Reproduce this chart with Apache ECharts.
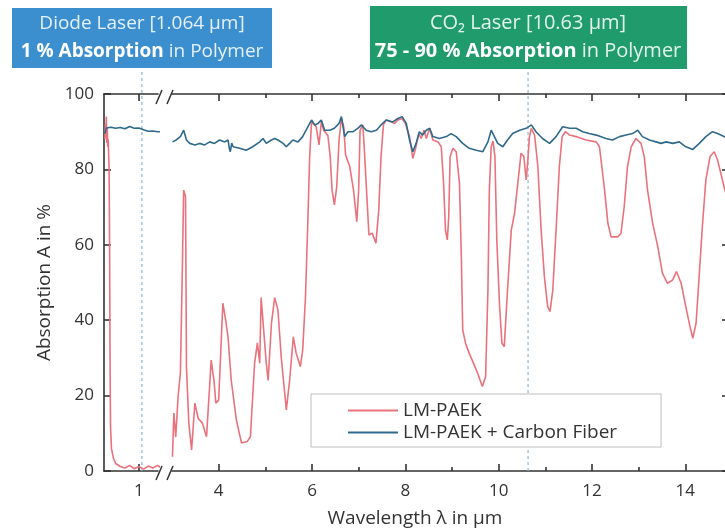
<!DOCTYPE html>
<html>
<head>
<meta charset="utf-8">
<script src="https://cdn.jsdelivr.net/npm/echarts@6/dist/echarts.min.js"></script>
<style>
  html, body { margin: 0; padding: 0; background: #fff; }
  #chart { width: 725px; height: 531px; }
</style>
</head>
<body>
<div id="chart"></div>
<script>
// LM-PAEK, near infrared part (left of the axis break)
var paekNirX = [0.27, 0.28, 0.29, 0.30, 0.31, 0.32, 0.33, 0.34, 0.35, 0.36, 0.37, 0.38, 0.39, 0.41, 0.45, 0.5, 0.6, 0.7, 0.8, 0.9, 1.0, 1.1, 1.2, 1.3, 1.4, 1.46];
var paekNirY = [88, 92, 90, 94, 87, 91, 86, 88, 84, 80, 60, 30, 12, 6, 3.5, 2, 1.2, 0.8, 1.5, 0.6, 1.2, 0.5, 1.3, 0.8, 1.5, 1];

// LM-PAEK + carbon fiber, near infrared part
var cfNirX = [0.27, 0.3, 0.4, 0.5, 0.6, 0.7, 0.8, 0.9, 1.0, 1.1, 1.2, 1.3, 1.4, 1.47];
var cfNirY = [89.5, 91, 91.2, 90.9, 91.1, 90.8, 91.4, 90.9, 91, 90.5, 90.1, 90.2, 90, 90];

// LM-PAEK, mid infrared part
var paekMirX = [3.01, 3.04, 3.08, 3.13, 3.18, 3.22, 3.25, 3.29, 3.31, 3.36, 3.42, 3.49, 3.56, 3.65, 3.74, 3.84, 3.9, 3.94, 4.0,
    4.09, 4.15, 4.2, 4.27, 4.38, 4.49, 4.61, 4.68, 4.77, 4.83, 4.88, 4.91, 4.95, 5.02, 5.06, 5.13, 5.2, 5.27, 5.34, 5.45,
    5.52, 5.6, 5.66, 5.75, 5.8, 5.86, 5.91, 5.95, 5.99, 6.02, 6.09, 6.15, 6.2, 6.25, 6.34, 6.39, 6.43, 6.48, 6.53, 6.58,
    6.63, 6.68, 6.72, 6.81, 6.89, 6.96, 7.0, 7.03, 7.09, 7.13, 7.18, 7.22, 7.29, 7.37, 7.43, 7.48, 7.53, 7.59, 7.7, 7.77,
    7.84, 7.93, 8.0, 8.09, 8.16, 8.22, 8.29, 8.34, 8.4, 8.45, 8.52, 8.59, 8.7, 8.77, 8.82, 8.86, 8.9, 8.93, 8.96, 9.02,
    9.09, 9.16, 9.2, 9.23, 9.29, 9.37, 9.46, 9.55, 9.65, 9.72, 9.77, 9.8, 9.84, 9.88, 9.92, 9.96, 10.02, 10.07, 10.12,
    10.19, 10.27, 10.34, 10.41, 10.48, 10.54, 10.59, 10.62, 10.66, 10.7, 10.77, 10.84, 10.91, 10.98, 11.05, 11.1, 11.16,
    11.23, 11.3, 11.36, 11.43, 11.52, 11.66, 11.87, 12.09, 12.16, 12.27, 12.34, 12.41, 12.55, 12.62, 12.69, 12.76, 12.84,
    12.94, 13.05, 13.12, 13.19, 13.3, 13.41, 13.51, 13.62, 13.73, 13.81, 13.91, 14.01, 14.1, 14.16, 14.23, 14.3, 14.37,
    14.44, 14.53, 14.62, 14.69, 14.76, 14.83, 14.95];
var paekMirY = [3.8, 15.4, 9, 19.7, 26, 52.5, 74.5, 72.8, 27.7, 12.7, 5.6, 18, 14, 12.7, 9.1, 29.4, 24, 18, 18.8,
    44.5, 40, 35.6, 24, 13.5, 7.4, 7.8, 9.1, 28.6, 34, 28.6, 46, 46, 28.6, 24, 39, 46, 42.7, 30.3, 16.2,
    24, 35.6, 31.3, 27.7, 32, 46, 65.8, 83.4, 92.6, 93, 91.3, 86.5, 92.6, 90.4, 89, 83.4, 74.5, 70.6, 75.4, 87.8,
    93.5, 91.3, 83.8, 80.7, 74.5, 66.1, 74.5, 90.4, 91.8, 83.4, 71.9, 62.6, 63.1, 60.4, 69.2, 83.4, 91.8, 93.1, 92.6, 92.2,
    93.1, 93.5, 92.2, 88.7, 82.9, 85.6, 89.5, 88.2, 90.4, 88.2, 90.9, 87.8, 87.3, 86, 76.3, 63.9, 61.3, 67.5, 83.4, 85.6,
    84.7, 76.3, 56.8, 37.4, 33.9, 31.2, 28.6, 25.9, 22.4, 25, 48, 74.5, 86, 87.5, 83.4, 61.3, 43.6, 33.9, 33,
    48, 63.9, 68.3, 76.3, 84.3, 83.4, 77.2, 81.6, 88.7, 90.9, 89.1, 80.7, 63.9, 51.5, 43.6, 42.3, 48,
    63.9, 80.7, 88.7, 90, 89.1, 88.7, 87.8, 87.3, 86, 74.5, 65.7, 62.1, 62.1, 63, 70.1, 80.7, 86,
    88.2, 86.9, 83.4, 74.5, 65.7, 59.5, 52.4, 49.8, 50.7, 52.9, 49.8, 43.6, 38.3, 35.2, 39.2, 52.4, 65.7,
    77.2, 83.4, 84.7, 82.5, 79, 75.4, 70];

// LM-PAEK + carbon fiber, mid infrared part
var cfMirX = [3.01, 3.09, 3.18, 3.25, 3.31, 3.38, 3.49, 3.59, 3.7, 3.81, 3.91, 4.02, 4.13, 4.2, 4.23, 4.25, 4.28, 4.31,
    4.45, 4.59, 4.73, 4.88, 4.95, 5.02, 5.13, 5.2, 5.27, 5.38, 5.45, 5.52, 5.59, 5.7, 5.8, 5.91, 5.99, 6.06, 6.13, 6.2,
    6.27, 6.38, 6.48, 6.58, 6.63, 6.7, 6.77, 6.88, 6.98, 7.06, 7.16, 7.27, 7.38, 7.48, 7.59, 7.63, 7.73, 7.84, 7.93, 8.02,
    8.09, 8.16, 8.23, 8.3, 8.37, 8.45, 8.52, 8.59, 8.73, 8.88, 8.98, 9.09, 9.23, 9.37, 9.52, 9.66, 9.77, 9.84, 9.87, 9.98,
    10.09, 10.19, 10.3, 10.45, 10.59, 10.7, 10.8, 10.94, 11.09, 11.23, 11.37, 11.52, 11.66, 11.8, 11.94, 12.09, 12.3,
    12.44, 12.59, 12.73, 12.87, 12.98, 13.08, 13.23, 13.37, 13.48, 13.59, 13.73, 13.87, 14.01, 14.16, 14.3, 14.44, 14.58,
    14.69, 14.83, 14.95];
var cfMirY = [87.3, 87.8, 88.7, 90.4, 87.8, 86.9, 86.5, 86.9, 86.5, 87.3, 86.9, 87.8, 87.3, 87.8, 85.5, 84.7, 87, 86,
    85.6, 85.1, 86, 87.3, 88.2, 86.9, 87.8, 88.2, 87.8, 86.9, 86, 86.9, 87.8, 87.3, 88.7, 91.3, 93.1, 91.8, 92.2, 93.1,
    90.4, 90.4, 90.9, 92.2, 94, 88.7, 90, 90, 90.9, 91.8, 90.4, 90, 90.4, 91.8, 93.1, 93.5, 92.6, 93.5, 94, 92.2,
    87.8, 84.7, 86.9, 90, 89.1, 90.4, 90.9, 88.7, 88.2, 88.7, 89.5, 88.7, 86.9, 85.6, 85.1, 84.7, 87.3, 90.4, 90, 86.9,
    86, 87.8, 89.5, 90.4, 90.9, 91.8, 90, 88.2, 86.9, 88.7, 91.3, 90.9, 90.9, 90, 89.5, 89.1, 88.2,
    87.8, 88.7, 89.1, 89.5, 90.4, 88.7, 87.8, 87.3, 86.9, 87.3, 86.9, 87.3, 86, 85.3, 86.9, 88.7, 90,
    89.5, 88.7, 88];

// laser wavelengths (µm)
var diodeLaser = 1.064;
var co2Laser = 10.63;

var majorTicks = [4, 6, 8, 10, 12, 14];
var minorTicks = [5, 7, 9, 11, 13];

var RED = '#e9727c';
var BLUE = '#2f6a8c';
var AXIS = '#333';
var FONT = '"Open Sans", "DejaVu Sans", sans-serif';

function pairs(xs, ys) {
    return xs.map(function (x, i) { return [x, ys[i]]; });
}

function xAxisFor(grid, pos, min, max, ticks, len, labels, line) {
    return {
        gridIndex: grid,
        type: 'value',
        position: pos,
        min: min,
        max: max,
        splitLine: { show: false },
        axisLine: { show: line, onZero: false, lineStyle: { color: AXIS, width: 1.6 } },
        axisTick: { show: true, inside: true, length: len, customValues: ticks, lineStyle: { color: AXIS, width: 1.6 } },
        axisLabel: labels ? { customValues: labels, fontSize: 17, color: '#333', margin: 12, fontFamily: FONT } : { show: false }
    };
}

function laserLine(xIdx, yIdx, x) {
    return {
        type: 'line',
        xAxisIndex: xIdx,
        yAxisIndex: yIdx,
        data: [[x, 0], [x, 106]],
        symbol: 'none',
        clip: false,
        silent: true,
        z: 1,
        lineStyle: { color: '#8cb6dc', width: 1.2, type: [3, 3] }
    };
}

function boxText(x, y, line1, bold, rest, size, tint) {
    var base = { fontSize: size, lineHeight: 28, fill: tint, fontFamily: FONT };
    return {
        type: 'text', x: x, y: y,
        style: {
            text: '{t|' + line1 + '}\n{b|' + bold + '}{n|' + rest + '}',
            align: 'center', verticalAlign: 'middle',
            rich: {
                t: base,
                b: { fontSize: size, lineHeight: 28, fill: '#fff', fontWeight: 'bold', fontFamily: FONT },
                n: base
            }
        }
    };
}

function renderChart() {
    var chart = echarts.init(document.getElementById('chart'));
    var option = {
        backgroundColor: '#fff',
        animation: false,
        textStyle: { fontFamily: FONT },
        grid: [
            { left: 104, top: 94, width: 54, height: 377, outerBoundsMode: 'none' },
            { left: 172, top: 94, width: 560, height: 377, outerBoundsMode: 'none' }
        ],
        xAxis: [
            xAxisFor(0, 'bottom', 0.25, 1.41, [1], 7, [1], true),
            xAxisFor(0, 'top', 0.25, 1.41, [1], 7, null, true),
            xAxisFor(1, 'bottom', 3, 15, majorTicks, 7, majorTicks, true),
            xAxisFor(1, 'bottom', 3, 15, minorTicks, 4, null, false),
            xAxisFor(1, 'top', 3, 15, majorTicks, 7, null, true),
            xAxisFor(1, 'top', 3, 15, minorTicks, 4, null, false)
        ],
        yAxis: [
            {
                gridIndex: 0, type: 'value', position: 'left', min: 0, max: 100, interval: 20,
                name: 'Absorption A in %', nameLocation: 'middle', nameGap: 50,
                nameTextStyle: { fontSize: 19, color: '#333', fontFamily: FONT },
                splitLine: { show: false },
                axisLine: { show: true, lineStyle: { color: AXIS, width: 1.6 } },
                axisTick: { show: true, inside: true, length: 7, lineStyle: { color: AXIS, width: 1.6 } },
                axisLabel: { fontSize: 17, color: '#333', margin: 10, fontFamily: FONT }
            },
            {
                gridIndex: 1, type: 'value', position: 'right', min: 0, max: 100, interval: 20,
                splitLine: { show: false },
                axisLine: { show: true, lineStyle: { color: AXIS, width: 1.6 } },
                axisTick: { show: true, inside: true, length: 10, lineStyle: { color: AXIS, width: 1.6 } },
                axisLabel: { show: false }
            }
        ],
        legend: {
            data: ['LM-PAEK', 'LM-PAEK + Carbon Fiber'],
            orient: 'vertical',
            left: 311,
            top: 394,
            padding: [7, 44, 5, 37],
            itemGap: 3,
            itemWidth: 50,
            itemHeight: 2,
            icon: 'rect',
            backgroundColor: '#fff',
            borderColor: '#bdbdbd',
            borderWidth: 1,
            textStyle: { fontSize: 19, color: '#333', fontFamily: FONT }
        },
        graphic: [
            // laser info boxes
            { type: 'rect', shape: { x: 12, y: 8, width: 260, height: 60 }, style: { fill: '#3c8fcf' } },
            boxText(142, 38, 'Diode Laser [1.064 µm]', '1 % Absorption', ' in Polymer', 19, '#e4f0fa'),
            { type: 'rect', shape: { x: 370, y: 6, width: 317, height: 63 }, style: { fill: '#1f9b6c' } },
            boxText(528, 37, 'CO₂ Laser [10.63 µm]', '75 - 90 % Absorption', ' in Polymer', 20, '#e2f4ec'),
            // axis break marks
            { type: 'line', shape: { x1: 156, y1: 480, x2: 162, y2: 466 }, style: { stroke: AXIS, lineWidth: 1.5 } },
            { type: 'line', shape: { x1: 167, y1: 480, x2: 173, y2: 466 }, style: { stroke: AXIS, lineWidth: 1.5 } },
            { type: 'line', shape: { x1: 156, y1: 104, x2: 162, y2: 90 }, style: { stroke: AXIS, lineWidth: 1.5 } },
            { type: 'line', shape: { x1: 167, y1: 104, x2: 173, y2: 90 }, style: { stroke: AXIS, lineWidth: 1.5 } },
            // x axis title
            {
                type: 'text', x: 415, y: 519,
                style: { text: 'Wavelength λ in µm', align: 'center', verticalAlign: 'middle', fontSize: 19, fill: '#333', fontFamily: FONT }
            }
        ],
        series: [
            laserLine(0, 0, diodeLaser),
            laserLine(2, 1, co2Laser),
            {
                name: 'LM-PAEK', type: 'line', xAxisIndex: 0, yAxisIndex: 0, clip: false,
                data: pairs(paekNirX, paekNirY), symbol: 'none',
                lineStyle: { color: RED, width: 1.6 }, itemStyle: { color: RED }
            },
            {
                name: 'LM-PAEK', type: 'line', xAxisIndex: 2, yAxisIndex: 1,
                data: pairs(paekMirX, paekMirY), symbol: 'none',
                lineStyle: { color: RED, width: 1.6 }, itemStyle: { color: RED }
            },
            {
                name: 'LM-PAEK + Carbon Fiber', type: 'line', xAxisIndex: 0, yAxisIndex: 0, clip: false,
                data: pairs(cfNirX, cfNirY), symbol: 'none',
                lineStyle: { color: BLUE, width: 1.6 }, itemStyle: { color: BLUE }
            },
            {
                name: 'LM-PAEK + Carbon Fiber', type: 'line', xAxisIndex: 2, yAxisIndex: 1,
                data: pairs(cfMirX, cfMirY), symbol: 'none',
                lineStyle: { color: BLUE, width: 1.6 }, itemStyle: { color: BLUE }
            }
        ]
    };
    chart.setOption(option);
}

renderChart();
</script>
</body>
</html>
